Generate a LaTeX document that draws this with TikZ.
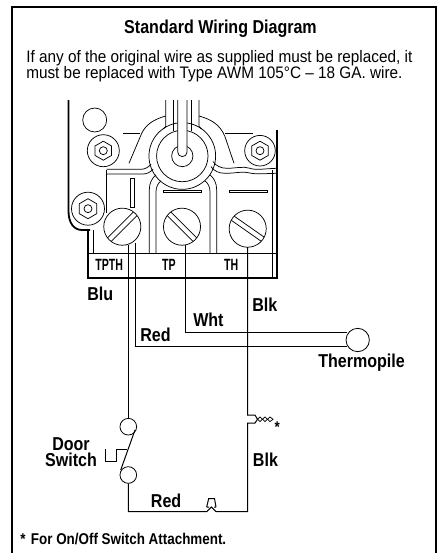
\documentclass[tikz,border=0pt]{standalone}
\usepackage{fontspec}
\setmainfont{Liberation Sans}
\newfontfamily\condb[FakeStretch=0.86]{Liberation Sans Bold}
\newfontfamily\condt[FakeStretch=0.65]{Liberation Sans Bold}
\newfontfamily\condr[FakeStretch=0.92]{Liberation Sans}
\tikzset{
  thin line/.style={line width=0.55pt},
  wire/.style={line width=0.75pt},
  heavy/.style={line width=1.35pt},
  lab/.style={font=\condb\fontsize{14}{12.5}\selectfont,inner sep=0,anchor=base west},
  small lab/.style={font=\condt\fontsize{12.2}{12.2}\selectfont,inner sep=0,anchor=base},
  term/.style={circle,draw,line width=0.6pt,fill=white,minimum size=#1,inner sep=0},
}
\newcommand{\hexbolt}[4]{% x,y,outer r,hex r
  \draw[thin line,fill=white] (#1,#2) circle ({#3*0.75pt});
  \draw[thin line] (#1,#2) ++(90:{#4*0.75pt}) -- ++(-30:{#4*0.75pt}) -- ++(-90:{#4*0.75pt}) -- ++(-150:{#4*0.75pt}) -- ++(150:{#4*0.75pt}) -- ++(90:{#4*0.75pt}) -- cycle;
  \draw[thin line] (#1,#2) circle (3pt);
}
\newcommand{\slotscrew}[3]{% x,y,angle
  \begin{scope}[shift={(#1,#2)},rotate=#3]
    \draw[thin line,fill=white] (0,0) circle (13.9pt);
    \draw[thin line] (-13.6pt,1.9pt) -- (13.6pt,1.9pt);
    \draw[thin line] (-13.6pt,-1.9pt) -- (13.6pt,-1.9pt);
  \end{scope}
}
\begin{document}
\begin{tikzpicture}[x=0.75pt,y=-0.75pt]
\useasboundingbox (0,0) rectangle (438,553);
\fill[white] (0,0) rectangle (438,553);
\draw[line width=1.5pt] (12,560) -- (12,7) -- (436,7) -- (436,560);
% texts
\node[font=\condb\fontsize{14}{14}\selectfont,inner sep=0,anchor=base] (title) at (220.5,33) {Standard Wiring Diagram};
\node[font=\condr\fontsize{12.5}{12}\selectfont,inner sep=0,anchor=base west,align=left] (intro) at (26,78) {If any of the original wire as supplied must be replaced, it\\must be replaced with Type AWM 105°C – 18 GA. wire.};
\node[font=\condb\fontsize{11.7}{11.7}\selectfont,inner sep=0,anchor=base west] (foot) at (20,544.7) {*\hspace{0.35em}For On/Off Switch Attachment.};
% body outline
\draw[heavy] (68.5,100) -- (68.5,211) .. controls (68.5,223) and (74,230) .. (82,230) -- (90,230);
\draw[heavy] (88,230) -- (88,278) -- (277,278) -- (277,130);
\draw[thin line] (93,230) -- (93,253);
\draw[thin line] (88,253) -- (277,253);
\draw[thin line] (272.5,170) -- (272.5,278);
% top circle and left upright
\draw[thin line] (94.7,120) circle (9pt);
\draw[thin line] (106.7,170) -- (106.7,213);
% horizontal stubs
\draw[thin line] (123,133.3) -- (140,133.3);
\draw[thin line] (225,133.3) -- (253,133.3);
% shoulders
\draw[thin line] (129,163.3) -- (141.7,133.3) .. controls (146,124) and (155,119) .. (165.7,116);
\draw[thin line] (234,163.3) -- (225,136.7) .. controls (220,124) and (210,119) .. (199,116);
% bands left
\draw[thin line] (106.7,169.3) -- (141,169.3) .. controls (145,169.3) and (149,167) .. (151,164);
\draw[thin line] (106.7,174) -- (143,174) .. controls (147,174) and (151,172) .. (153,169);
% bands right
\draw[thin line] (213,161.5) .. controls (216,166) and (221,168.3) .. (227,168.3) .. controls (236,168.3) and (243,166) .. (250,168.3) .. controls (256,170.5) and (266,168.5) .. (277,168.3);
\draw[thin line] (211,166.7) .. controls (214,171) and (219,173.3) .. (225,173.3) .. controls (236,173.3) and (243,171) .. (250,173) .. controls (256,174.5) and (266,173.5) .. (277,173.3);
% channels
\draw[thin line] (149.3,253) -- (149.3,190) .. controls (149.3,183) and (152,178) .. (156,175);
\draw[thin line] (156,253) -- (156,192) .. controls (156,187) and (158,183) .. (161,181);
\draw[thin line] (216.7,253) -- (216.7,190) .. controls (216.7,183) and (214,178) .. (210,175);
\draw[thin line] (210,253) -- (210,192) .. controls (210,187) and (208,183) .. (205,181);
% hub
\draw[thin line] (182.3,156) circle (25pt);
\draw[thin line] (182.3,156) circle (19.3pt);
\draw[thin line] (182.3,156) circle (8pt);
\draw[thin line,fill=white] (177.7,100) -- (177.7,152) arc (180:360:3.5pt) -- (187,100);
\draw[thin line] (173.3,100) -- (173.3,130.5);
\draw[thin line] (191,100) -- (191,130.5);
\draw[thin line] (165.7,100) -- (165.7,126.5) -- (163.3,129);
\draw[thin line] (199,100) -- (199,126.5) -- (201.5,129);
% bars
\draw[thin line] (163.3,190) rectangle (201.7,192.3);
\draw[thin line] (229,190) rectangle (267.3,192.3);
\draw[thin line] (130.7,178.3) rectangle (134.7,207.3);
% bolts
\hexbolt{103.3}{150.7}{16}{9.5}
\hexbolt{260}{150.7}{15.3}{9.5}
\hexbolt{88}{208.7}{16.5}{10}
% terminals
\slotscrew{122.3}{226.7}{45}
\slotscrew{182}{226.7}{-45}
\slotscrew{247.7}{228.7}{-35}
\coordinate (s1a) at (128.3,245);
\coordinate (s1b) at (135.7,243);
\coordinate (s2) at (185.3,245);
\coordinate (s3) at (247.7,247);
% thermopile and door switch
\node[term=17.5pt] (tp) at (357.7,340) {};
\node[term=12.5pt] (sw1) at (128.3,426.7) {};
\node[term=12.5pt] (sw2) at (128.3,475) {};
% wires
\coordinate (c1) at (135.7,346.7);
\coordinate (c2) at (185.3,332.3);
\draw[wire] (s1a) -- (sw1);
\draw[wire] (s1b) -- (c1) -- (tp.-150 |- c1);
\draw[wire] (s2) -- (c2) -- (tp.150 |- c2);
\coordinate (n1) at (247.7,415);
\coordinate (n2) at (247.7,423);
\coordinate (corner) at (247.7,511.7);
\coordinate (corner2) at (128.3,511.7);
\draw[wire] (s3) -- (n1) -- (255,415) .. controls (256,417) .. (257.5,419.3) .. controls (256,421.5) .. (255,423) -- (n2) -- (corner) -- (216,511.7) -- (211.3,507) -- (206.7,511.7) -- (corner2) -- (sw2);
% fuse cap
\draw[wire] (206.7,507) -- (208.7,498.5) -- (214.5,498.5) -- (216,507) (206.7,507) -- (209,507) (214,507) -- (216,507);
% twist
\draw[thin line] (257.5,419.3) -- (260,417) -- (265,421.5) -- (270,417) -- (273,419.3) -- (270,421.5) -- (265,417) -- (260,421.5) -- cycle;
\node[font=\condb\fontsize{11.7}{11.7}\selectfont,inner sep=0,anchor=base] (ast) at (277.3,432) {*};
% switch
\draw[wire] (135,430) -- (120.7,470);
\draw[wire] (127.3,449) -- (116.7,449) -- (116.7,461.3) -- (105.7,461.3) -- (105.7,449);
% labels
\node[small lab] (l1) at (109.2,270.5) {TPTH};
\node[small lab] (l2) at (168.8,270.5) {TP};
\node[small lab] (l3) at (231.2,270.5) {TH};
\node[lab] (blu) at (87,300.5) {Blu};
\node[lab] (blk1) at (252,311.7) {Blk};
\node[lab] (wht) at (193,326.7) {Wht};
\node[lab] (red1) at (140,341.7) {Red};
\node[lab] (therm) at (318,367.7) {Thermopile};
\node[lab,align=center,anchor=base] (door) at (71,466.7) {Door\\Switch};
\node[lab] (blk2) at (252.7,466) {Blk};
\node[lab] (red2) at (150.7,507.7) {Red};
\end{tikzpicture}
\end{document}
